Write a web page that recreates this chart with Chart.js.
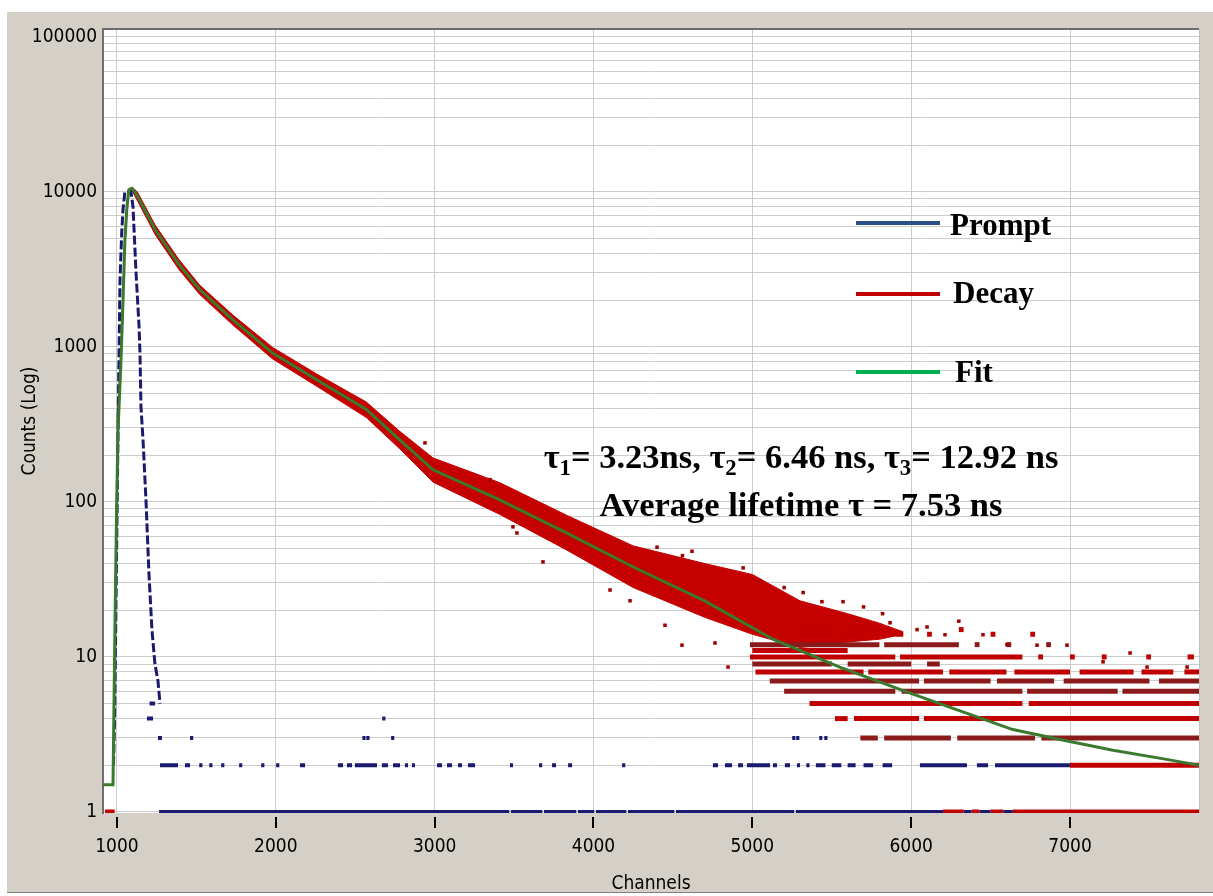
<!DOCTYPE html>
<html>
<head>
<meta charset="utf-8">
<script src="https://cdn.jsdelivr.net/npm/chart.js@4.4.0/dist/chart.umd.min.js"></script>
<style>
  body { margin: 0; background: #fff; }
  #wrap { position: relative; width: 1213px; height: 896px; }
  #chart { position: absolute; left: 0; top: 0; }
  .note { position: absolute; font-family: 'Liberation Serif', 'Times New Roman', serif; font-weight: bold; color: #000; white-space: nowrap; line-height: 1; }
  .center { transform: translateX(-50%); }
  .key { position: absolute; left: 856px; width: 84px; height: 4px; }
  sub { font-size: 0.66em; vertical-align: -0.3em; line-height: 0; }
</style>
</head>
<body>
<div id="wrap">
  <canvas id="chart" width="1213" height="896"></canvas>
  <div class="key" style="top:221px;background:#2b4f87"></div>
  <div class="note" style="left:950px;top:209px;font-size:31px">Prompt</div>
  <div class="key" style="top:292px;background:#c00000"></div>
  <div class="note" style="left:953px;top:277px;font-size:31px">Decay</div>
  <div class="key" style="top:370px;background:#00b050"></div>
  <div class="note" style="left:955px;top:356px;font-size:31px">Fit</div>
  <div class="note center" style="left:801px;top:439px;font-size:34.5px">τ<sub>1</sub>= 3.23ns, τ<sub>2</sub>= 6.46 ns, τ<sub>3</sub>= 12.92 ns</div>
  <div class="note center" style="left:801px;top:487px;font-size:34.5px">Average lifetime τ = 7.53 ns</div>
</div>
<script>
// axis ticks
const xTicks = [1000, 2000, 3000, 4000, 5000, 6000, 7000]
const yDecades = [1, 10, 100, 1000, 10000, 100000]

// fitted curve
const fitChannels = [912, 975, 987, 997, 1006, 1025, 1038, 1050, 1063, 1075, 1095, 1110, 1130, 1240, 1390, 1520, 1730, 1980, 2260, 2570, 2780, 2990, 3410, 3830, 4250, 4700, 5130, 5550, 5980, 6330, 6640, 6960, 7270, 7590, 7812]
const fitCounts = [1.5, 1.5, 15, 80, 280, 800, 2000, 4900, 8000, 10300, 10500, 10000, 9300, 5700, 3400, 2340, 1490, 910, 610, 394, 251, 161, 103, 63, 38, 23, 13, 8.6, 5.9, 4.4, 3.4, 2.9, 2.5, 2.2, 2.0]

// prompt (IRF) peak
const promptChannels = [978, 985, 994, 1006, 1019, 1030, 1038, 1050, 1070, 1088, 1101, 1120, 1139, 1145, 1151, 1164, 1183, 1201, 1220, 1239, 1258, 1271]
const promptCounts = [2, 4, 23, 250, 2700, 5500, 7700, 10000, 10000, 10000, 7950, 3000, 1350, 900, 410, 251, 100, 35, 15, 9, 7, 5]

// prompt low counts: [count, from channel, to channel]
const promptRuns = [
  [1, 1265, 3470], [1, 3480, 3678], [1, 3688, 3892], [1, 3902, 4005], [1, 4015, 4207], [1, 4217, 4509], [1, 4519, 5264], [1, 5274, 6200], [1, 6330, 6380], [1, 6430, 6500], [1, 6580, 6640],
  [2, 1271, 1384], [2, 1428, 1460], [2, 1518, 1538], [2, 1581, 1601], [2, 1656, 1676], [2, 1769, 1789], [2, 1908, 1928], [2, 2002, 2022], [2, 2152, 2184], [2, 2391, 2423], [2, 2448, 2480], [2, 2498, 2637], [2, 2668, 2706], [2, 2738, 2782], [2, 2813, 2832], [2, 2857, 2876], [2, 3015, 3046], [2, 3078, 3109], [2, 3147, 3172], [2, 3210, 3254], [2, 3474, 3493], [2, 3657, 3677], [2, 3739, 3764], [2, 3840, 3865], [2, 4180, 4200], [2, 4752, 4784], [2, 4828, 4872], [2, 4910, 4941], [2, 4966, 5111], [2, 5130, 5155], [2, 5205, 5237], [2, 5281, 5300], [2, 5340, 5360], [2, 5400, 5460], [2, 5500, 5560], [2, 5600, 5650], [2, 5700, 5760], [2, 5820, 5880], [2, 6055, 6351], [2, 6414, 6484], [2, 6528, 7000],
  [3, 1258, 1283], [3, 1460, 1480], [3, 2545, 2565], [3, 2570, 2590], [3, 2726, 2746], [3, 5251, 5271], [3, 5276, 5296], [3, 5421, 5441], [3, 5453, 5473],
  [4, 1189, 1227], [4, 2670, 2690],
  [5, 1205, 1240]
]

// decay band around the fit
const bandChannels = [1000, 1025, 1038, 1050, 1063, 1075, 1095, 1110, 1130, 1240, 1390, 1520, 1730, 1980, 2260, 2570, 2780, 2990, 3410, 3830, 4250, 4700, 5000, 5300, 5600, 5800, 5950]
const decayUpper = [330, 950, 2400, 5600, 8800, 10500, 10600, 10400, 9900, 6100, 3650, 2500, 1600, 990, 665, 440, 285, 192, 133, 82, 52, 40, 34, 23, 19, 16.5, 14.5]
const decayLower = [210, 680, 1700, 4300, 7300, 9700, 10100, 9500, 8700, 5300, 3150, 2180, 1380, 835, 555, 350, 220, 134, 83, 49, 28, 18, 14, 11.5, 12.5, 13, 14]

// decay scattered counts
const decayDotChannels = [2939, 3349, 3493, 3518, 3682, 4104, 4230, 4400, 4450, 4557, 4560, 4620, 4765, 4847, 4942, 5048, 5200, 5320, 5438, 5571, 5700, 5820, 5867, 6037, 6100, 6213, 6300, 6452, 6603, 6792, 6981, 7208, 7378, 7485, 7737]
const decayDotCounts = [240, 139, 69, 63, 41, 27, 23, 51, 16, 11.9, 45, 48, 12.3, 8.6, 37.5, 31, 28, 26, 22.7, 22.7, 21, 19, 16.6, 15, 15.6, 13.9, 17, 13.9, 12, 11.9, 11.9, 9.3, 10.6, 8.6, 8.6]

// decay tail, integer count levels: [count, from channel, to channel]
const decayRuns = [
  [1, 925, 985], [1, 6200, 6330], [1, 6380, 6430], [1, 6500, 6580], [1, 6640, 7812],
  [2, 7000, 7812],
  [3, 5680, 5790], [3, 5830, 6250], [3, 6290, 6780], [3, 6820, 7812],
  [4, 5520, 5600], [4, 5640, 6050], [4, 6080, 7812],
  [5, 5360, 6700], [5, 6740, 7812],
  [6, 5200, 5900], [6, 5940, 6700], [6, 6730, 7300], [6, 7330, 7812],
  [7, 5110, 6050], [7, 6080, 6500], [7, 6540, 6900], [7, 6960, 7500], [7, 7560, 7812],
  [8, 5020, 5700], [8, 5730, 6200], [8, 6240, 6600], [8, 6650, 7000], [8, 7060, 7400], [8, 7450, 7650], [8, 7720, 7812],
  [9, 5000, 5500], [9, 5600, 6000], [9, 6100, 6180],
  [10, 4985, 5900], [10, 5930, 6700], [10, 6800, 6830], [10, 7000, 7030], [10, 7200, 7230], [10, 7480, 7510], [10, 7740, 7780],
  [11, 5000, 5600],
  [12, 4985, 5800], [12, 5830, 6300], [12, 6400, 6430], [12, 6600, 6630], [12, 6850, 6880],
  [14, 5300, 5500], [14, 5600, 5680], [15, 5750, 5800], [14, 5900, 5950], [14, 6100, 6130], [15, 6300, 6330], [14, 6500, 6530], [14, 6750, 6780]
]

const yGrid = []
yDecades.slice(0, -1).forEach(d => { for (let k = 1; k < 10; k++) yGrid.push(d * k) })
yGrid.push(100000)

const pairs = (xs, ys) => xs.map((x, i) => ({x: x, y: ys[i]}))
function runPoints(runs) {
  const pts = []
  runs.forEach(([count, from, to]) => {
    pts.push({x: from, y: count}, {x: to, y: count}, {x: to, y: null})
  })
  return pts
}

const darkLevels = [3, 6, 7, 9, 12]
const tickFont = {family: "'Liberation Sans Narrow', 'DejaVu Sans Condensed', 'Liberation Sans', sans-serif", size: 19}

const frame = {
  id: 'frame',
  beforeDraw(chart) {
    const {ctx, chartArea: a, width, height} = chart
    ctx.save()
    ctx.fillStyle = '#ffffff'
    ctx.fillRect(0, 0, width, height)
    ctx.fillStyle = '#d4d0c8'
    ctx.fillRect(7, 12, width - 7, 880)
    ctx.fillStyle = '#808080'
    ctx.fillRect(7, 892, width - 7, 1)
    ctx.fillStyle = '#ffffff'
    ctx.fillRect(a.left, a.top, a.right - a.left, a.bottom - a.top)
    ctx.restore()
  },
  afterDraw(chart) {
    const {ctx, chartArea: a, scales} = chart
    ctx.save()
    ctx.strokeStyle = '#000'
    ctx.lineWidth = 2
    scales.x.ticks.forEach(t => {
      const px = Math.round(scales.x.getPixelForValue(t.value))
      ctx.beginPath()
      ctx.moveTo(px, a.bottom + 4)
      ctx.lineTo(px, a.bottom + 15)
      ctx.stroke()
    })
    ctx.strokeStyle = '#6e6e6e'
    ctx.beginPath()
    ctx.moveTo(a.left, a.top)
    ctx.lineTo(a.right, a.top)
    ctx.stroke()
    ctx.strokeStyle = '#c0c0c0'
    ctx.lineWidth = 1
    ctx.beginPath()
    ctx.moveTo(a.right + 0.5, a.top)
    ctx.lineTo(a.right + 0.5, a.bottom)
    ctx.stroke()
    ctx.restore()
  }
}

const chart = new Chart("chart", {
  type: "line",
  data: {
    datasets: [
      {
        label: 'Fit',
        data: pairs(fitChannels, fitCounts),
        borderColor: '#3b7a2e',
        borderWidth: 3,
        pointRadius: 0
      },
      {
        label: 'Prompt',
        data: pairs(promptChannels, promptCounts),
        borderColor: '#1a1a70',
        borderWidth: 3,
        borderDash: [9, 3],
        pointRadius: 0
      },
      {
        label: 'Prompt low',
        data: runPoints(promptRuns),
        borderColor: '#1a1a70',
        borderWidth: 4,
        borderCapStyle: 'butt',
        pointRadius: 0
      },
      {
        label: 'Decay dots',
        data: pairs(decayDotChannels, decayDotCounts),
        showLine: false,
        pointStyle: 'rect',
        pointRadius: 2.5,
        pointBackgroundColor: '#a00000',
        pointBorderWidth: 0
      },
      {
        label: 'Decay tail',
        data: runPoints(decayRuns),
        borderColor: '#c00000',
        borderWidth: 5,
        borderCapStyle: 'butt',
        pointRadius: 0,
        segment: {
          borderColor: c => darkLevels.includes(c.p0.parsed.y) ? '#8b1a1a' : '#c00000'
        }
      },
      {
        label: 'Decay upper',
        data: pairs(bandChannels, decayUpper),
        borderColor: '#c40000',
        borderWidth: 1,
        pointRadius: 0
      },
      {
        label: 'Decay lower',
        data: pairs(bandChannels, decayLower),
        borderColor: '#c40000',
        backgroundColor: '#c40000',
        borderWidth: 1,
        pointRadius: 0,
        fill: '-1'
      }
    ]
  },
  options: {
    responsive: false,
    animation: false,
    layout: {padding: {top: 29, right: 14, left: 0, bottom: 0}},
    plugins: {
      legend: {display: false},
      tooltip: {enabled: false}
    },
    scales: {
      x: {
        type: 'linear',
        min: 912,
        max: 7812,
        afterBuildTicks: s => { s.ticks = xTicks.map(v => ({value: v})) },
        afterFit: s => { s.height = 83 },
        grid: {color: '#cccccc', drawTicks: false},
        border: {display: false},
        ticks: {color: '#000', font: tickFont, padding: 23, maxRotation: 0, callback: v => String(v)},
        title: {display: true, text: 'Channels', color: '#000', font: tickFont, padding: {top: 0, bottom: 1}}
      },
      y: {
        type: 'logarithmic',
        min: 0.985,
        max: 112000,
        afterBuildTicks: s => { s.ticks = yGrid.map(v => ({value: v})) },
        afterFit: s => { s.width = 103 },
        grid: {color: '#cccccc', drawTicks: false},
        border: {display: true, color: '#6e6e6e', width: 2},
        ticks: {
          color: '#000',
          font: tickFont,
          padding: 6,
          autoSkip: false,
          callback: v => yDecades.includes(v) ? String(v) : ''
        },
        title: {display: true, text: 'Counts (Log)', color: '#000', font: tickFont, padding: {top: 19, bottom: 0}}
      }
    }
  },
  plugins: [frame]
})
</script>
</body>
</html>
